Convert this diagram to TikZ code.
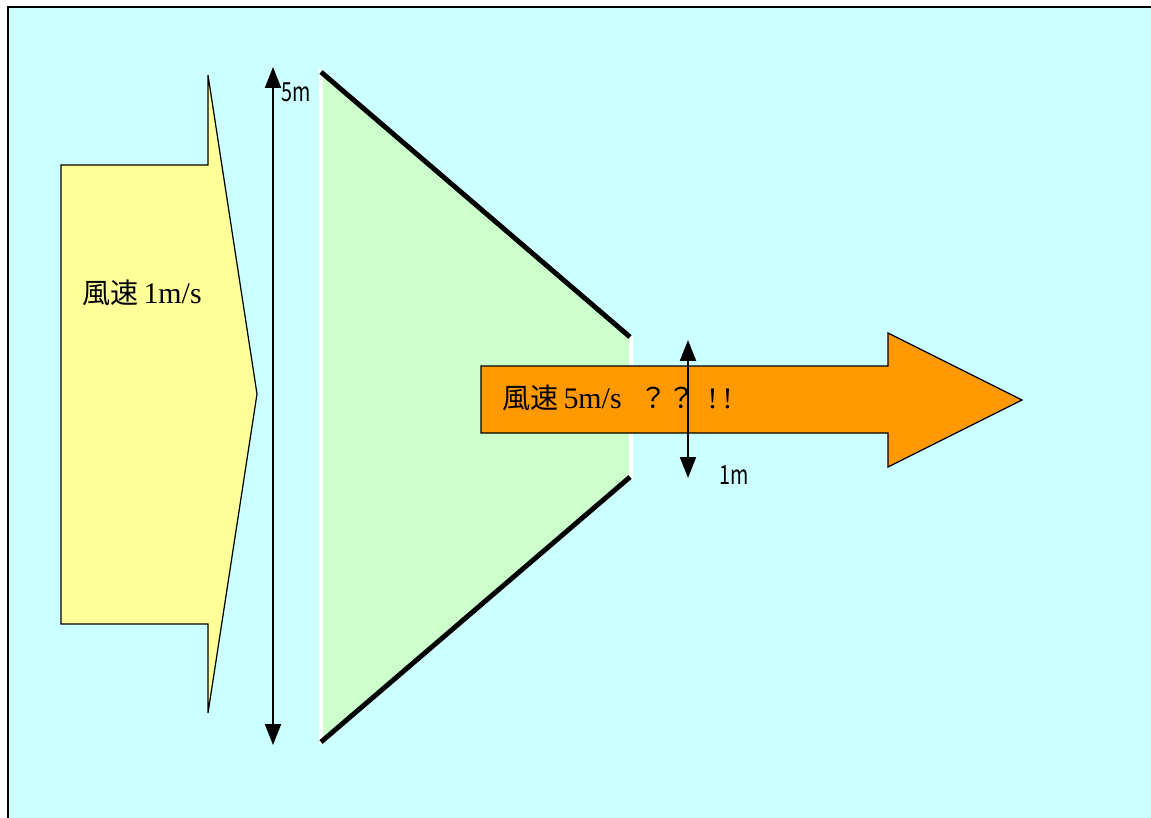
\documentclass[tikz,border=0pt]{standalone}
\usepackage{fontspec}
\setmainfont{Liberation Serif}
\newfontfamily\cjk{Noto Sans CJK JP}
\usetikzlibrary{arrows.meta}
\definecolor{skyfill}{HTML}{CCFFFF}
\definecolor{yellowfill}{HTML}{FFFF99}
\definecolor{greenfill}{HTML}{CCFFCC}
\definecolor{orangefill}{HTML}{FF9900}

\begin{document}
\begin{tikzpicture}[
    x=0.02cm,y=-0.02cm,
    blockarrow/.style={draw=black,line width=0.7pt,line join=miter},
    dim/.style={{Triangle[length=0.42cm,width=0.32cm]}-{Triangle[length=0.42cm,width=0.32cm]},line width=1.2pt},
    lbl/.style={font=\fontsize{17}{20}\selectfont,anchor=west,inner sep=0pt},
    dimlbl/.style={font=\cjk\fontsize{15}{18}\selectfont,anchor=west,inner sep=0pt},
]
\useasboundingbox (0,0) rectangle (1151,817);
\clip (0,0) rectangle (1151,817);
\draw[fill=skyfill,line width=1.2pt] (8,7) rectangle (1170,840);

% incoming wind
\draw[blockarrow,fill=yellowfill] (61,165) -- (208,165) -- (208,75) -- (257,394) -- (208,713) -- (208,624) -- (61,624) -- cycle;
\node[lbl] (speedin) at (82,293) {{\cjk\fontsize{16}{19}\selectfont 風速}\,1m/s};

% funnel
\fill[greenfill] (320,72) -- (630,337) -- (630,477) -- (320,742) -- cycle;
\draw[white,line width=2.3pt] (321,70) -- (321,744);
\draw[white,line width=2.3pt] (631,335) -- (631,479);
\draw[line width=2.8pt] (321,72) -- (630,337);
\draw[line width=2.8pt] (630,477) -- (321,742);

% 5m
\coordinate (top5) at (273,67);
\coordinate (bot5) at (273,745);
\draw[dim] (top5) -- (bot5);
\node[dimlbl] (len5) at (281,92) {\scalebox{0.75}[1]{5m}};

% outgoing wind
\draw[blockarrow,fill=orangefill] (481,366) -- (888,366) -- (888,333) -- (1022,400) -- (888,467) -- (888,433) -- (481,433) -- cycle;
\node[lbl] (speedout) at (502,398) {{\cjk\fontsize{16}{19}\selectfont 風速}\,5m/s\hspace{0.6em}{\cjk\fontsize{16}{19}\selectfont ？？}\hspace{0.4em}!\,!};

% 1m
\coordinate (top1) at (688,340);
\coordinate (bot1) at (688,478);
\draw[dim] (top1) -- (bot1);
\node[dimlbl] (len1) at (719,475) {\scalebox{0.75}[1]{1m}};
\end{tikzpicture}
\end{document}
